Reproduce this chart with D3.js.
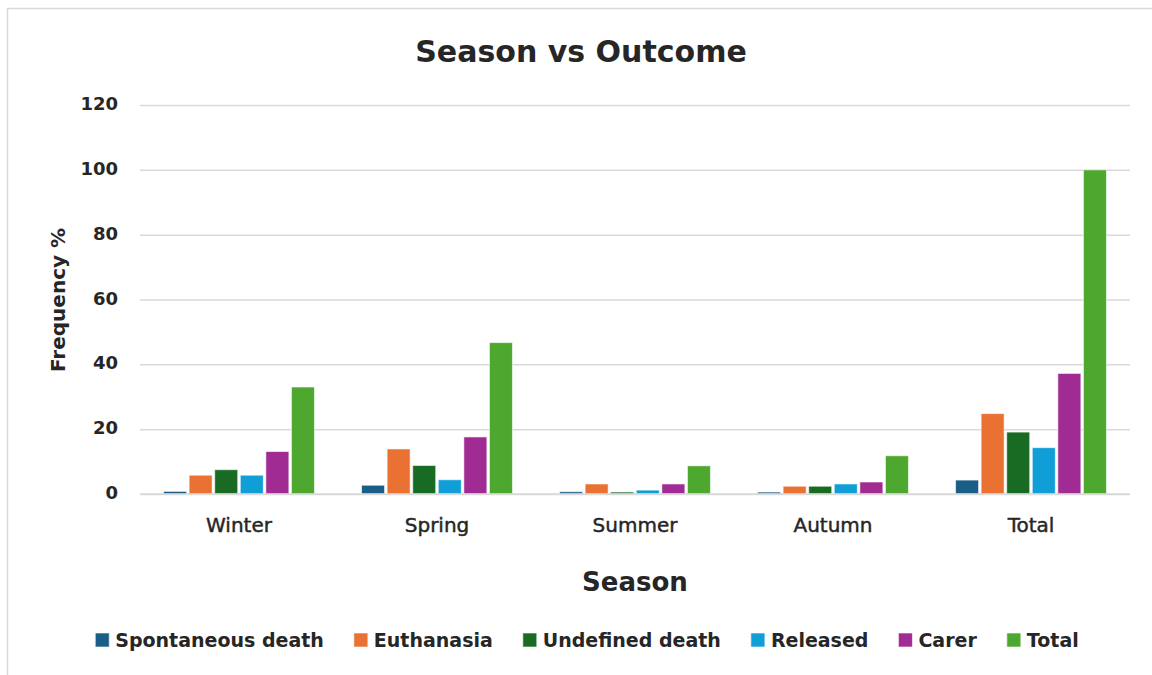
<!DOCTYPE html>
<html>
<head>
<meta charset="utf-8">
<script src="https://cdn.jsdelivr.net/npm/d3@7"></script>
<style>
  html, body { margin: 0; padding: 0; background: #fff; }
  svg { display: block; }
  text { font-family: "DejaVu Sans", sans-serif; fill: #262626; }
</style>
</head>
<body>
<svg id="chart" width="1152" height="675"></svg>
<script>
// Categories (seasons) and outcome series, in percent
const seasons = ["Winter", "Spring", "Summer", "Autumn", "Total"];
const seriesNames = ["Spontaneous death", "Euthanasia", "Undefined death", "Released", "Carer", "Total"];
const spontaneousDeath = [0.8, 2.7, 0.7, 0.6, 4.3];
const euthanasia = [5.8, 13.9, 3.1, 2.4, 24.8];
const undefinedDeath = [7.5, 8.8, 0.6, 2.4, 19.1];
const released = [5.8, 4.4, 1.2, 3.1, 14.3];
const carer = [13.1, 17.6, 3.1, 3.7, 37.2];
const total = [33.0, 46.7, 8.7, 11.8, 100];
const yTicks = [0, 20, 40, 60, 80, 100, 120];
const seriesColors = ["#1a5e87", "#e97132", "#196b24", "#0f9ed5", "#a02b93", "#4ea72e"];

const seriesValues = [spontaneousDeath, euthanasia, undefinedDeath, released, carer, total];

const svg = d3.select("#chart");

// outer chart frame
svg.append("rect")
  .attr("x", 7.5).attr("y", 8.5)
  .attr("width", 1170).attr("height", 680)
  .attr("fill", "#fff")
  .attr("stroke", "#d9d9d9")
  .attr("stroke-width", 1.5);

const plot = { left: 140, right: 1130, top: 105, bottom: 494 };

const x0 = d3.scaleBand()
  .domain(seasons)
  .range([plot.left, plot.right])
  .paddingInner(0.212)
  .paddingOuter(0.106);

const x1 = d3.scaleBand()
  .domain(seriesNames)
  .range([0, x0.bandwidth()])
  .padding(0.1);

const y = d3.scaleLinear()
  .domain([0, 120])
  .range([plot.bottom, plot.top]);

const color = d3.scaleOrdinal().domain(seriesNames).range(seriesColors);

// horizontal gridlines and tick labels
const yAxis = d3.axisLeft(y)
  .tickValues(yTicks)
  .tickSize(-(plot.right - plot.left))
  .tickPadding(22);

const gy = svg.append("g")
  .attr("transform", `translate(${plot.left},0)`)
  .call(yAxis);
gy.select(".domain").remove();
gy.selectAll(".tick line")
  .attr("stroke", "#d9d9d9")
  .attr("stroke-width", 1.5);
gy.selectAll(".tick text")
  .attr("font-family", "DejaVu Sans, sans-serif")
  .attr("font-weight", "bold")
  .attr("font-size", 18)
  .attr("fill", "#262626")
  .attr("dy", "0.25em");

// grouped bars
const rows = seasons.map((s, i) => ({
  season: s,
  values: seriesNames.map((n, j) => ({ name: n, value: seriesValues[j][i] }))
}));

const groups = svg.append("g")
  .selectAll("g")
  .data(rows)
  .join("g")
  .attr("transform", d => `translate(${x0(d.season)},0)`);

groups.selectAll("rect")
  .data(d => d.values)
  .join("rect")
  .attr("x", d => x1(d.name))
  .attr("width", x1.bandwidth())
  .attr("y", d => y(d.value))
  .attr("height", d => y(0) - y(d.value))
  .attr("fill", d => color(d.name))
  .attr("stroke", "#ffffff")
  .attr("stroke-opacity", 0.6)
  .attr("stroke-width", 1);

// baseline
svg.append("line")
  .attr("x1", plot.left).attr("x2", plot.right)
  .attr("y1", y(0)).attr("y2", y(0))
  .attr("stroke", "#d9d9d9")
  .attr("stroke-width", 1.5);

// category axis labels
const xAxis = d3.axisBottom(x0).tickSize(0).tickPadding(0);
const gx = svg.append("g")
  .attr("transform", `translate(0,${plot.bottom})`)
  .call(xAxis);
gx.select(".domain").remove();
gx.selectAll(".tick text")
  .attr("font-family", "DejaVu Sans, sans-serif")
  .attr("font-size", 20)
  .attr("fill", "#262626")
  .attr("stroke", "#262626")
  .attr("stroke-width", 0.45)
  .attr("y", 38)
  .attr("dy", 0);

// title
svg.append("text")
  .attr("x", 581).attr("y", 62)
  .attr("text-anchor", "middle")
  .attr("font-weight", "bold")
  .attr("font-size", 30)
  .attr("fill", "#000")
  .text("Season vs Outcome");

// axis titles
svg.append("text")
  .attr("x", 635).attr("y", 591)
  .attr("text-anchor", "middle")
  .attr("font-weight", "bold")
  .attr("font-size", 26)
  .attr("fill", "#000")
  .text("Season");

svg.append("text")
  .attr("transform", "translate(65,300) rotate(-90)")
  .attr("text-anchor", "middle")
  .attr("font-weight", "bold")
  .attr("font-size", 20)
  .attr("fill", "#000")
  .text("Frequency %");

// legend, laid out in one centred row
const legend = svg.append("g");
const items = legend.selectAll("g")
  .data(seriesNames)
  .join("g");
items.append("rect")
  .attr("width", 14).attr("height", 14)
  .attr("y", -7)
  .attr("fill", d => color(d))
  .attr("stroke", "#ffffff")
  .attr("stroke-opacity", 0.6);
items.append("text")
  .attr("x", 20)
  .attr("dy", "0.36em")
  .attr("font-weight", "bold")
  .attr("font-size", 19)
  .attr("fill", "#262626")
  .text(d => d);

const gap = 30;
let cursor = 0;
const offsets = [];
items.each(function () {
  const w = 20 + d3.select(this).select("text").node().getComputedTextLength();
  offsets.push(cursor);
  cursor += w + gap;
});
const legendWidth = cursor - gap;
const legendStart = 587 - legendWidth / 2;
items.attr("transform", (d, i) => `translate(${legendStart + offsets[i]},640)`);
</script>
</body>
</html>
